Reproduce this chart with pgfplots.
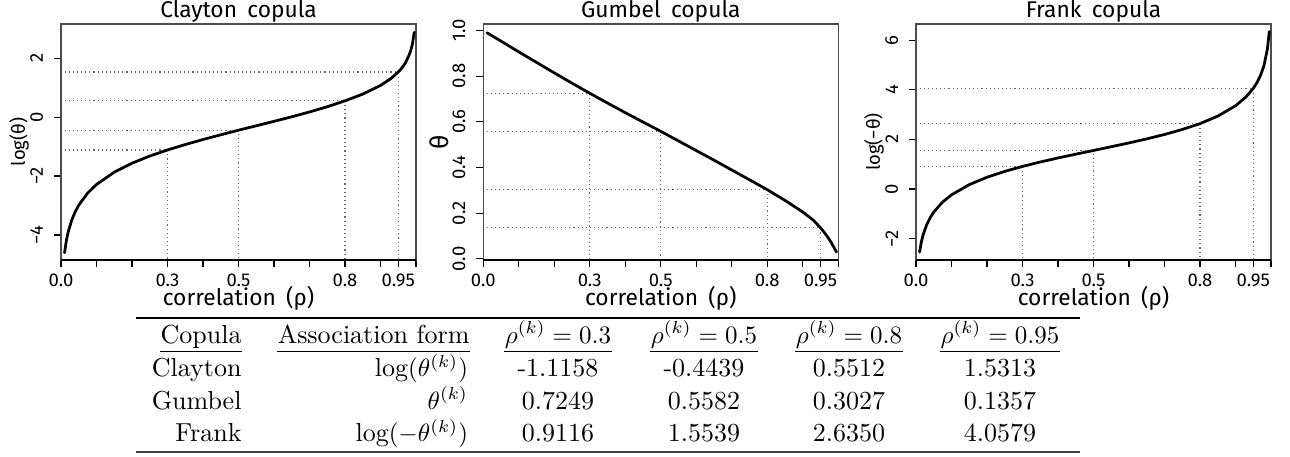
\documentclass[border=0pt]{standalone}
\usepackage{fontspec}
\usepackage{pgfplots}
\pgfplotsset{compat=1.18}
\newfontfamily\rf{Fira Sans}
\newcommand\tf{\fontsize{10.4}{12}\selectfont}

\pgfplotsset{
  rplot/.style={
    scale only axis, width=142pt, height=94.4pt,
    anchor=south west, clip=false,
    xmin=0, xmax=1,
    axis line style={black!70, line width=0.45pt},
    tick align=outside, tick pos=left,
    major tick length=2.8pt, minor tick length=2.8pt,
    tick style={black, line width=0.45pt},
    minor tick style={black, line width=0.45pt},
    xtick={0,0.3,0.5,0.8,0.95},
    xticklabels={0.0,0.3,0.5,0.8,0.95},
    minor xtick={0.1,0.2,0.4,0.6,0.7,0.9,1},
    ticklabel style={font=\rf\fontsize{7.4}{8}\selectfont, inner sep=0pt},
    xticklabel style={anchor=north},
    yticklabel style={rotate=90, anchor=south},
    xticklabel shift=2.4pt, yticklabel shift=4.2pt,
    title style={font=\rf\fontsize{9.1}{10}\selectfont, at={(axis description cs:0.5,1)}, anchor=base, yshift=-3.4pt, inner sep=0pt},
    xlabel={correlation\hspace{0.45em}(ρ)},
    xlabel style={font=\rf\fontsize{9.1}{10}\selectfont, at={(axis description cs:0.5,0)}, anchor=base, yshift=-18.4pt, inner sep=0pt},
    ylabel style={font=\rf\fontsize{7.4}{8}\selectfont, at={(axis description cs:0,0.5)}, anchor=center, yshift=16.8pt, inner sep=0pt},
  },
  curve/.style={black, line width=1.1pt, line join=round, line cap=round},
  guide/.style={black!60, line width=0.45pt, dash pattern=on 0.45pt off 1.2pt},
}

\begin{document}
\begin{tikzpicture}
\useasboundingbox (0,0) rectangle (516pt,182.4pt);

% Clayton
\begin{axis}[rplot, at={(24.4pt,78.4pt)},
  title={Clayton\hspace{0.45em}copula}, ylabel={log(θ)},
  ymin=-4.85, ymax=3.16,
  ytick={-4,-2,0,2}, yticklabels={−4,−2,0,2}]
\addplot[guide] coordinates {(0.01,-1.1158) (0.3,-1.1158) (0.3,-4.85)};
\addplot[guide] coordinates {(0.01,-0.4439) (0.5,-0.4439) (0.5,-4.85)};
\addplot[guide] coordinates {(0.01,0.5512) (0.8,0.5512) (0.8,-4.85)};
\addplot[guide] coordinates {(0.01,1.5313) (0.95,1.5313) (0.95,-4.85)};
\addplot[curve] coordinates {
(0.01,-4.604) (0.015,-4.199) (0.02,-3.910) (0.03,-3.503) (0.04,-3.214)
(0.05,-2.989) (0.075,-2.579) (0.1,-2.287) (0.15,-1.869) (0.2,-1.565)
(0.25,-1.322) (0.3,-1.1158) (0.35,-0.932) (0.4,-0.761) (0.45,-0.601)
(0.5,-0.4439) (0.55,-0.295) (0.6,-0.144) (0.65,0.010) (0.7,0.174)
(0.75,0.351) (0.8,0.5512) (0.85,0.780) (0.9,1.074) (0.93,1.315)
(0.95,1.5313) (0.96,1.665) (0.97,1.835) (0.98,2.09) (0.985,2.25)
(0.99,2.48) (0.995,2.88)};
\draw[black, line width=1.1pt] (rel axis cs:0,0) -- (rel axis cs:1,0);
\end{axis}

% Gumbel
\begin{axis}[rplot, at={(193.3pt,78.4pt)},
  title={Gumbel\hspace{0.45em}copula}, ylabel={θ},
  ylabel style={font=\rf\fontsize{10}{11}\selectfont, yshift=0.8pt},
  ymin=-0.005, ymax=1.028,
  ytick={0,0.2,0.4,0.6,0.8,1}, yticklabels={0.0,0.2,0.4,0.6,0.8,1.0}]
\addplot[guide] coordinates {(0.01,0.7249) (0.3,0.7249) (0.3,-0.005)};
\addplot[guide] coordinates {(0.01,0.5582) (0.5,0.5582) (0.5,-0.005)};
\addplot[guide] coordinates {(0.01,0.3027) (0.8,0.3027) (0.8,-0.005)};
\addplot[guide] coordinates {(0.01,0.1357) (0.95,0.1357) (0.95,-0.005)};
\addplot[curve] coordinates {
(0.01,0.990) (0.05,0.953) (0.1,0.906) (0.15,0.860) (0.2,0.814)
(0.25,0.769) (0.3,0.7249) (0.35,0.682) (0.4,0.640) (0.45,0.599)
(0.5,0.5582) (0.55,0.516) (0.6,0.474) (0.65,0.432) (0.7,0.389)
(0.75,0.346) (0.8,0.3027) (0.85,0.256) (0.9,0.205) (0.93,0.169)
(0.95,0.1357) (0.96,0.117) (0.97,0.096) (0.98,0.072) (0.99,0.044)
(0.995,0.030)};
\draw[black, line width=1.1pt] (rel axis cs:0,0) -- (rel axis cs:1,0);
\end{axis}

% Frank
\begin{axis}[rplot, at={(366.4pt,78.4pt)},
  title={Frank\hspace{0.45em}copula}, ylabel={log(−θ)},
  ymin=-2.86, ymax=6.65,
  ytick={-2,0,2,4,6}, yticklabels={−2,0,2,4,6}]
\addplot[guide] coordinates {(0.01,0.9116) (0.3,0.9116) (0.3,-2.86)};
\addplot[guide] coordinates {(0.01,1.5539) (0.5,1.5539) (0.5,-2.86)};
\addplot[guide] coordinates {(0.01,2.6350) (0.8,2.6350) (0.8,-2.86)};
\addplot[guide] coordinates {(0.01,4.0579) (0.95,4.0579) (0.95,-2.86)};
\addplot[curve] coordinates {
(0.01,-2.540) (0.015,-2.135) (0.02,-1.847) (0.03,-1.442) (0.04,-1.154)
(0.05,-0.930) (0.075,-0.523) (0.1,-0.234) (0.15,0.177) (0.2,0.475)
(0.25,0.711) (0.3,0.9116) (0.35,1.089) (0.4,1.252) (0.45,1.405)
(0.5,1.5539) (0.55,1.705) (0.6,1.858) (0.65,2.021) (0.7,2.198)
(0.75,2.399) (0.8,2.635) (0.85,2.938) (0.9,3.354) (0.93,3.718)
(0.95,4.0579) (0.96,4.279) (0.97,4.564) (0.98,4.965) (0.99,5.654)
(0.995,6.343)};
\draw[black, line width=1.1pt] (rel axis cs:0,0) -- (rel axis cs:1,0);
\end{axis}

% table
\begin{scope}[font=\tf, every node/.style={inner sep=0pt}]
\draw[line width=0.5pt] (54.4pt,55.2pt) -- (432pt,55.2pt);
\draw[line width=0.8pt, black!75] (54.4pt,1.72pt) -- (432pt,1.72pt);
\node[anchor=base east] (h1) at (96.8pt,45.2pt) {Copula};
\node[anchor=base east] (h2) at (188pt,45.2pt) {Association form};
\node[anchor=base] (h3) at (223.2pt,45.2pt) {$\rho^{(k)} = 0.3$};
\node[anchor=base] (h4) at (281.6pt,45.2pt) {$\rho^{(k)} = 0.5$};
\node[anchor=base] (h5) at (339.6pt,45.2pt) {$\rho^{(k)} = 0.8$};
\node[anchor=base] (h6) at (400pt,45.2pt) {$\rho^{(k)} = 0.95$};
\foreach \h in {h1,h2,h3,h4,h5,h6}
  \draw[line width=0.4pt] (\h.west |- 0,41.7pt) -- (\h.east |- 0,41.7pt);
% rows
\node[anchor=base east] at (96.8pt,31.72pt) {Clayton};
\node[anchor=base east] at (187.4pt,31.72pt) {$\log(\theta^{(k)})$};
\node[anchor=base] at (223.2pt,31.72pt) {-1.1158};
\node[anchor=base] at (281.6pt,31.72pt) {-0.4439};
\node[anchor=base] at (339.6pt,31.72pt) {0.5512};
\node[anchor=base] at (400pt,31.72pt) {1.5313};
\node[anchor=base east] at (96.8pt,18.8pt) {Gumbel};
\node[anchor=base east] at (187.4pt,18.8pt) {$\theta^{(k)}$};
\node[anchor=base] at (223.2pt,18.8pt) {0.7249};
\node[anchor=base] at (281.6pt,18.8pt) {0.5582};
\node[anchor=base] at (339.6pt,18.8pt) {0.3027};
\node[anchor=base] at (400pt,18.8pt) {0.1357};
\node[anchor=base east] at (96.8pt,5.72pt) {Frank};
\node[anchor=base east] at (187.4pt,5.72pt) {$\log(-\theta^{(k)})$};
\node[anchor=base] at (223.2pt,5.72pt) {0.9116};
\node[anchor=base] at (281.6pt,5.72pt) {1.5539};
\node[anchor=base] at (339.6pt,5.72pt) {2.6350};
\node[anchor=base] at (400pt,5.72pt) {4.0579};
\end{scope}
\end{tikzpicture}
\end{document}
